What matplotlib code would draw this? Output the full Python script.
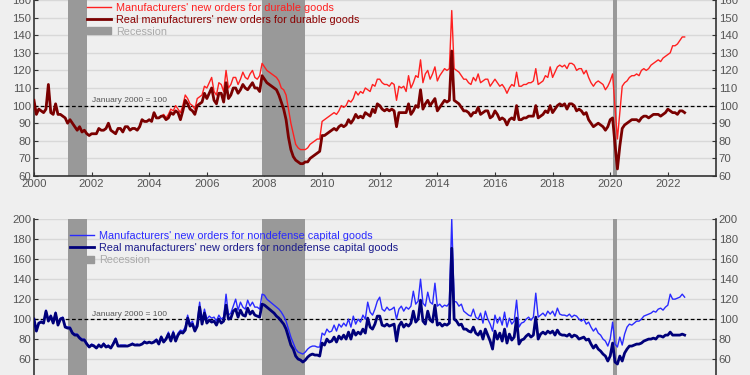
import numpy as np
import pandas as pd
import matplotlib
matplotlib.use('Agg')
import matplotlib.pyplot as plt
from matplotlib.lines import Line2D
from matplotlib.patches import Patch

plt.rcParams['font.family'] = ['Liberation Sans', 'DejaVu Sans']

# monthly index values, Jan 2000 = 100 (Jan 2000 .. Aug 2022)
durable_nominal = [
    103, 95, 98, 97, 96, 98, 112, 96, 95, 101, 95, 95,
    94, 93, 90, 92, 90, 88, 86, 88, 85, 86, 84, 83,
    84, 84, 84, 87, 86, 86, 87, 90, 86, 85, 84, 87,
    87, 85, 88, 88, 86, 87, 87, 86, 88, 92, 91, 91,
    92, 91, 96, 93, 93, 94, 95, 93, 95, 98, 97, 100,
    98, 96, 100, 106, 104, 101, 100, 98, 104, 105, 106, 111,
    110, 113, 116, 108, 106, 113, 112, 108, 120, 110, 112, 116,
    116, 112, 115, 119, 116, 115, 118, 120, 116, 115, 117, 124,
    122, 120, 119, 118, 117, 116, 114, 110, 109, 106, 98, 90,
    84, 78, 76, 75, 75, 75, 76, 78, 79, 80, 81, 81,
    91, 92, 93, 94, 95, 96, 95, 97, 100, 99, 100, 103,
    102, 104, 108, 106, 108, 107, 110, 109, 108, 112, 111, 115,
    115, 113, 112, 112, 111, 113, 112, 103, 111, 110, 111, 108,
    117, 110, 113, 117, 116, 126, 113, 118, 120, 115, 118, 122,
    114, 117, 119, 121, 120, 121, 154, 121, 120, 119, 117, 115,
    115, 113, 112, 116, 114, 118, 113, 114, 115, 115, 111, 113,
    115, 113, 111, 112, 110, 107, 110, 112, 111, 119, 111, 111,
    112, 112, 113, 113, 114, 121, 112, 113, 114, 117, 116, 122,
    116, 119, 122, 123, 122, 123, 121, 124, 124, 123, 120, 121,
    121, 118, 120, 116, 113, 111, 113, 114, 113, 112, 109, 111,
    114, 118, 99, 81, 96, 111, 113, 114, 116, 117, 117, 118,
    117, 120, 121, 120, 121, 123, 124, 125, 126, 125, 127, 128,
    129, 130, 134, 134, 135, 137, 139, 139,
]
durable_real = [
    103, 95, 98, 97, 96, 98, 112, 96, 95, 101, 95, 95,
    94, 93, 90, 92, 90, 88, 86, 88, 85, 86, 84, 83,
    84, 84, 84, 87, 86, 86, 87, 90, 86, 85, 84, 87,
    87, 85, 88, 88, 86, 87, 87, 86, 88, 92, 91, 91,
    92, 91, 96, 93, 93, 94, 94, 92, 93, 96, 95, 97,
    96, 92, 97, 103, 101, 98, 97, 95, 100, 101, 102, 107,
    104, 107, 110, 103, 101, 107, 107, 102, 113, 104, 106, 110,
    110, 107, 109, 112, 110, 109, 111, 113, 110, 110, 108, 117,
    115, 113, 112, 111, 110, 109, 106, 102, 98, 92, 82, 75,
    71, 69, 68, 67, 67, 68, 68, 70, 71, 72, 73, 74,
    83, 83, 84, 85, 86, 87, 86, 88, 89, 88, 89, 92,
    90, 92, 95, 93, 94, 93, 96, 95, 94, 98, 96, 101,
    100, 98, 97, 98, 97, 98, 97, 88, 96, 96, 96, 96,
    101, 95, 97, 100, 99, 109, 98, 101, 103, 100, 102, 104,
    97, 99, 101, 103, 102, 103, 131, 103, 102, 101, 99, 97,
    97, 96, 94, 96, 96, 99, 95, 96, 97, 97, 93, 94,
    97, 95, 92, 93, 92, 89, 92, 93, 92, 100, 92, 92,
    93, 93, 94, 94, 94, 100, 93, 94, 95, 97, 96, 100,
    96, 98, 100, 101, 100, 101, 98, 101, 101, 100, 97, 98,
    97, 95, 96, 92, 90, 88, 89, 90, 89, 88, 86, 88,
    92, 93, 78, 64, 77, 87, 89, 90, 91, 92, 92, 92,
    91, 93, 94, 94, 93, 94, 95, 95, 95, 94, 95, 96,
    98, 97, 96, 96, 95, 97, 97, 96,
]
capital_nominal = [
    100, 89, 96, 98, 96, 109, 99, 104, 97, 107, 95, 101,
    102, 93, 92, 92, 87, 85, 85, 82, 80, 80, 76, 73,
    75, 74, 71, 75, 72, 76, 73, 74, 71, 76, 81, 73,
    74, 74, 74, 73, 74, 76, 74, 75, 74, 75, 78, 76,
    77, 76, 78, 80, 76, 83, 78, 81, 87, 79, 88, 80,
    86, 89, 88, 92, 104, 95, 98, 90, 96, 117, 98, 110,
    100, 103, 101, 102, 98, 104, 100, 102, 125, 104, 106, 113,
    120, 109, 117, 112, 110, 119, 113, 117, 112, 112, 110, 125,
    124, 120, 118, 116, 114, 112, 110, 107, 103, 98, 90, 82,
    76, 70, 67, 66, 65, 67, 70, 72, 73, 73, 72, 72,
    86, 84, 90, 87, 88, 94, 88, 95, 92, 96, 93, 100,
    92, 103, 95, 100, 97, 104, 100, 117, 107, 104, 110, 118,
    122, 110, 108, 112, 109, 110, 112, 100, 110, 113, 108, 112,
    110, 113, 128, 115, 118, 140, 116, 113, 127, 117, 115, 136,
    113, 115, 112, 114, 113, 116, 200, 118, 117, 113, 115, 108,
    106, 104, 103, 110, 102, 100, 106, 96, 108, 100, 95, 88,
    104, 96, 102, 94, 107, 92, 101, 95, 98, 119, 92, 96,
    97, 100, 102, 99, 102, 126, 102, 104, 106, 103, 108, 105,
    108, 103, 111, 105, 104, 104, 103, 105, 102, 104, 103, 100,
    98, 100, 95, 97, 92, 88, 91, 86, 84, 80, 78, 73,
    80, 97, 75, 72, 82, 74, 85, 92, 95, 94, 96, 98,
    98, 100, 103, 104, 105, 106, 108, 107, 110, 111, 109, 112,
    114, 125, 120, 120, 121, 122, 125, 122,
]
capital_real = [
    100, 88, 96, 97, 96, 108, 98, 103, 96, 106, 94, 100,
    101, 92, 91, 91, 86, 84, 84, 81, 79, 79, 75, 72,
    74, 73, 71, 74, 72, 75, 72, 73, 71, 75, 80, 73,
    73, 73, 73, 73, 74, 75, 74, 74, 74, 75, 77, 76,
    77, 76, 77, 79, 75, 82, 77, 80, 85, 78, 86, 78,
    84, 87, 86, 89, 101, 93, 95, 88, 93, 112, 95, 106,
    96, 99, 97, 98, 94, 100, 96, 98, 114, 100, 101, 108,
    110, 102, 109, 104, 103, 111, 105, 108, 104, 103, 102, 115,
    114, 112, 110, 108, 106, 103, 101, 98, 95, 90, 82, 74,
    70, 63, 60, 59, 57, 59, 62, 64, 65, 64, 64, 63,
    76, 74, 80, 77, 78, 82, 77, 83, 80, 84, 80, 87,
    80, 89, 84, 87, 85, 90, 86, 101, 92, 90, 95, 103,
    103, 94, 93, 95, 93, 94, 95, 78, 93, 97, 92, 95,
    93, 96, 108, 97, 100, 119, 98, 95, 108, 99, 97, 114,
    94, 96, 93, 95, 94, 96, 171, 100, 98, 94, 95, 90,
    90, 88, 87, 92, 86, 84, 88, 80, 90, 84, 78, 70,
    88, 80, 86, 78, 90, 76, 85, 79, 82, 101, 75, 79,
    80, 83, 85, 82, 84, 102, 80, 85, 87, 85, 88, 86,
    88, 84, 89, 85, 84, 84, 83, 85, 82, 84, 83, 80,
    81, 82, 79, 80, 75, 71, 74, 70, 68, 65, 63, 58,
    63, 76, 57, 55, 63, 58, 66, 70, 73, 73, 74, 75,
    75, 76, 78, 79, 80, 80, 81, 80, 83, 83, 82, 84,
    84, 87, 84, 84, 84, 84, 85, 84,
]

recessions = [('2001-03', '2001-11'), ('2007-12', '2009-06'), ('2020-02', '2020-04')]

dates = pd.date_range('2000-01-01', periods=len(durable_nominal), freq='MS')


def dec_year(d):
    d = pd.Timestamp(d)
    return d.year + (d.month - 1) / 12


x = np.array([dec_year(d) for d in dates])

bg = '#efefef'
fig = plt.figure(figsize=(7.5, 3.75), dpi=100, facecolor=bg)


def setup(ax, lo, hi, step):
    ax.set_facecolor(bg)
    ax.set_xlim(2000, 2023.67)
    ax.set_ylim(lo, hi)
    ax.set_yticks(np.arange(lo, hi + 1, step))
    ax.set_xticks(np.arange(2000, 2023, 2))
    ax.grid(axis='y', color='#d8d8d8', lw=1)
    ax.set_axisbelow(True)
    ax.spines['top'].set_visible(False)
    for s in ['left', 'right', 'bottom']:
        ax.spines[s].set_color('#333333')
        ax.spines[s].set_linewidth(1.2)
    ax.tick_params(axis='both', direction='in', length=3, color='#333333',
                   labelcolor='#555555', labelsize=8.2, pad=2)
    ax.tick_params(axis='y', right=True, labelright=True)
    for a, b in recessions:
        ax.axvspan(dec_year(a), dec_year(b), color='#999999', lw=0, zorder=1)
    ax.axhline(100, color='black', lw=0.9, ls=(0, (3, 2)), zorder=2)
    ax.text(2003.3, 101, 'January 2000 = 100', fontsize=6, color='#555555',
            ha='center', va='bottom', zorder=3)


def add_legend(ax, handles, labels, colors, anchor):
    ax.legend(handles, labels, loc='upper left', bbox_to_anchor=anchor,
              frameon=False, fontsize=7.8, handlelength=2.2, handleheight=0.6,
              labelspacing=0.18, handletextpad=0.45, borderpad=0,
              borderaxespad=0, labelcolor=colors)


ax1 = fig.add_axes([0.0453, 0.5307, 0.9093, 0.4693])
setup(ax1, 60, 160, 10)
ax1.plot(x, durable_nominal, color='#ff2020', lw=1.0, zorder=4)
ax1.plot(x, durable_real, color='#7a0000', lw=2.0, zorder=5)
add_legend(ax1,
           [Line2D([], [], color='#ff2020', lw=1.0),
            Line2D([], [], color='#7a0000', lw=2.0),
            Patch(color='#999999')],
           ["Manufacturers' new orders for durable goods",
            "Real manufacturers' new orders for durable goods",
            'Recession'],
           ['#ff2020', '#8b0000', '#aaaaaa'], (0.0778, 0.984))

ax2 = fig.add_axes([0.0453, -0.0107, 0.9093, 0.4259])
setup(ax2, 40, 200, 20)
ax2.tick_params(axis='x', labelbottom=False)
ax2.plot(x, capital_nominal, color='#2a2aff', lw=1.0, zorder=4)
ax2.plot(x, capital_real, color='#00007a', lw=2.0, zorder=5)
add_legend(ax2,
           [Line2D([], [], color='#2a2aff', lw=1.0),
            Line2D([], [], color='#00007a', lw=2.0),
            Patch(color='#999999')],
           ["Manufacturers' new orders for nondefense capital goods",
            "Real manufacturers' new orders for nondefense capital goods",
            'Recession'],
           ['#2a2aff', '#1a1a8b', '#aaaaaa'], (0.0529, 0.926))

fig.savefig('out.png', dpi=100, facecolor=bg)
